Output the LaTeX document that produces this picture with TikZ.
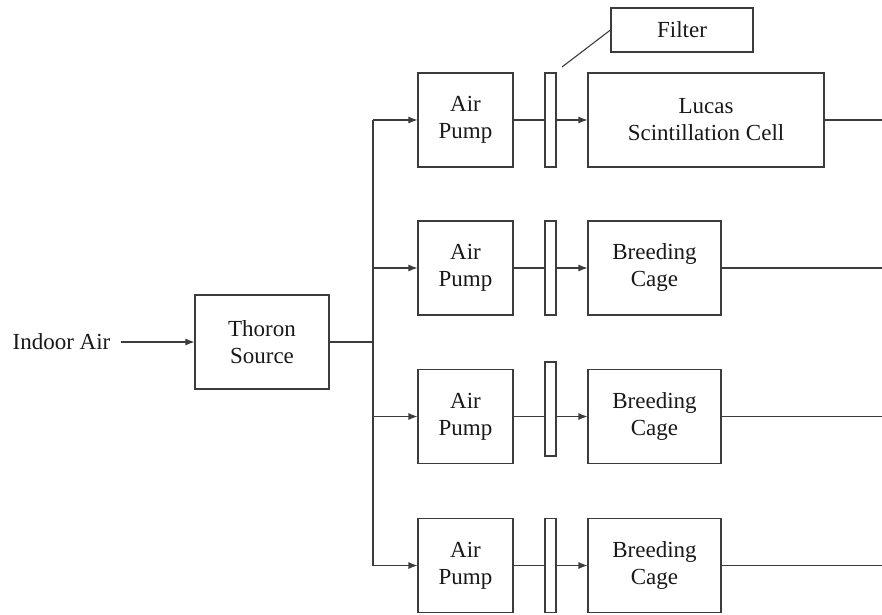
\documentclass[tikz,border=0pt]{standalone}
\usepackage{fontspec}
\setmainfont{Liberation Serif}
\usetikzlibrary{arrows.meta}

\begin{document}
\begin{tikzpicture}[x=1pt,y=1pt,
  box/.style={draw=drawColor,line width=1.1pt,align=center,inner sep=0pt,minimum height=94pt,text=textColor,font=\fontsize{23}{27}\selectfont},
  filterbar/.style={draw=drawColor,line width=1.1pt,inner sep=0pt,minimum width=11pt,minimum height=94pt},
  pipe/.style={draw=drawColor,line width=1.1pt},
  flow/.style={pipe,-{Latex[length=9pt,width=7pt]}}]
\definecolor{fillColor}{RGB}{255,255,255}
\definecolor{drawColor}{RGB}{60,60,60}
\definecolor{textColor}{RGB}{25,25,25}
\path[use as bounding box,fill=fillColor] (0,0) rectangle (882,614);

\node[text=textColor,font=\fontsize{23}{27}\selectfont,inner xsep=10pt,inner ysep=0pt] (indoor) at (61.5,272) {Indoor Air};
\node[box,minimum width=134pt] (thoron) at (262,272) {Thoron\\Source};
\coordinate (split) at (373,272);
\coordinate (edge) at (882,0);

\node[box,minimum width=95pt] (pump1) at (465.5,494) {Air\\Pump};
\node[box,minimum width=95pt] (pump2) at (465.5,346) {Air\\Pump};
\node[box,minimum width=95pt] (pump3) at (465.5,197.5) {Air\\Pump};
\node[box,minimum width=95pt] (pump4) at (465.5,48.5) {Air\\Pump};

\node[filterbar] (f1) at (550.5,494) {};
\node[filterbar] (f2) at (550.5,346) {};
\node[filterbar] (f3) at (550.5,205) {};
\node[filterbar] (f4) at (550.5,48.5) {};

\node[box,minimum width=236pt] (lucas) at (706,494) {Lucas\\Scintillation Cell};
\node[box,minimum width=133pt] (cage2) at (654.5,346) {Breeding\\Cage};
\node[box,minimum width=133pt] (cage3) at (654.5,197.5) {Breeding\\Cage};
\node[box,minimum width=133pt] (cage4) at (654.5,48.5) {Breeding\\Cage};

\node[box,minimum width=142pt,minimum height=44pt] (filterlabel) at (682,584) {Filter};
\coordinate (tip) at (562,547);

\draw[flow] (indoor) -- (thoron);
\draw[pipe] (thoron) -- (split);
\draw[pipe] (split |- pump1) -- (split |- pump4);

\draw[flow] (split |- pump1) -- (pump1);
\draw[flow] (split |- pump2) -- (pump2);
\draw[flow] (split |- pump3) -- (pump3);
\draw[flow] (split |- pump4) -- (pump4);

\draw[pipe] (pump1) -- (f1);
\draw[pipe] (pump2) -- (f2);
\draw[pipe] (pump3.east) -- (pump3.east -| f3.west);
\draw[pipe] (pump4) -- (f4);

\draw[flow] (f1) -- (lucas);
\draw[flow] (f2) -- (cage2);
\draw[flow] (f3.east |- pump3) -- (cage3);
\draw[flow] (f4) -- (cage4);

\draw[pipe] (lucas.east) -- (lucas.east -| edge);
\draw[pipe] (cage2.east) -- (cage2.east -| edge);
\draw[pipe] (cage3.east) -- (cage3.east -| edge);
\draw[pipe] (cage4.east) -- (cage4.east -| edge);

\draw[pipe] (tip) -- (filterlabel.west);
\end{tikzpicture}
\end{document}
